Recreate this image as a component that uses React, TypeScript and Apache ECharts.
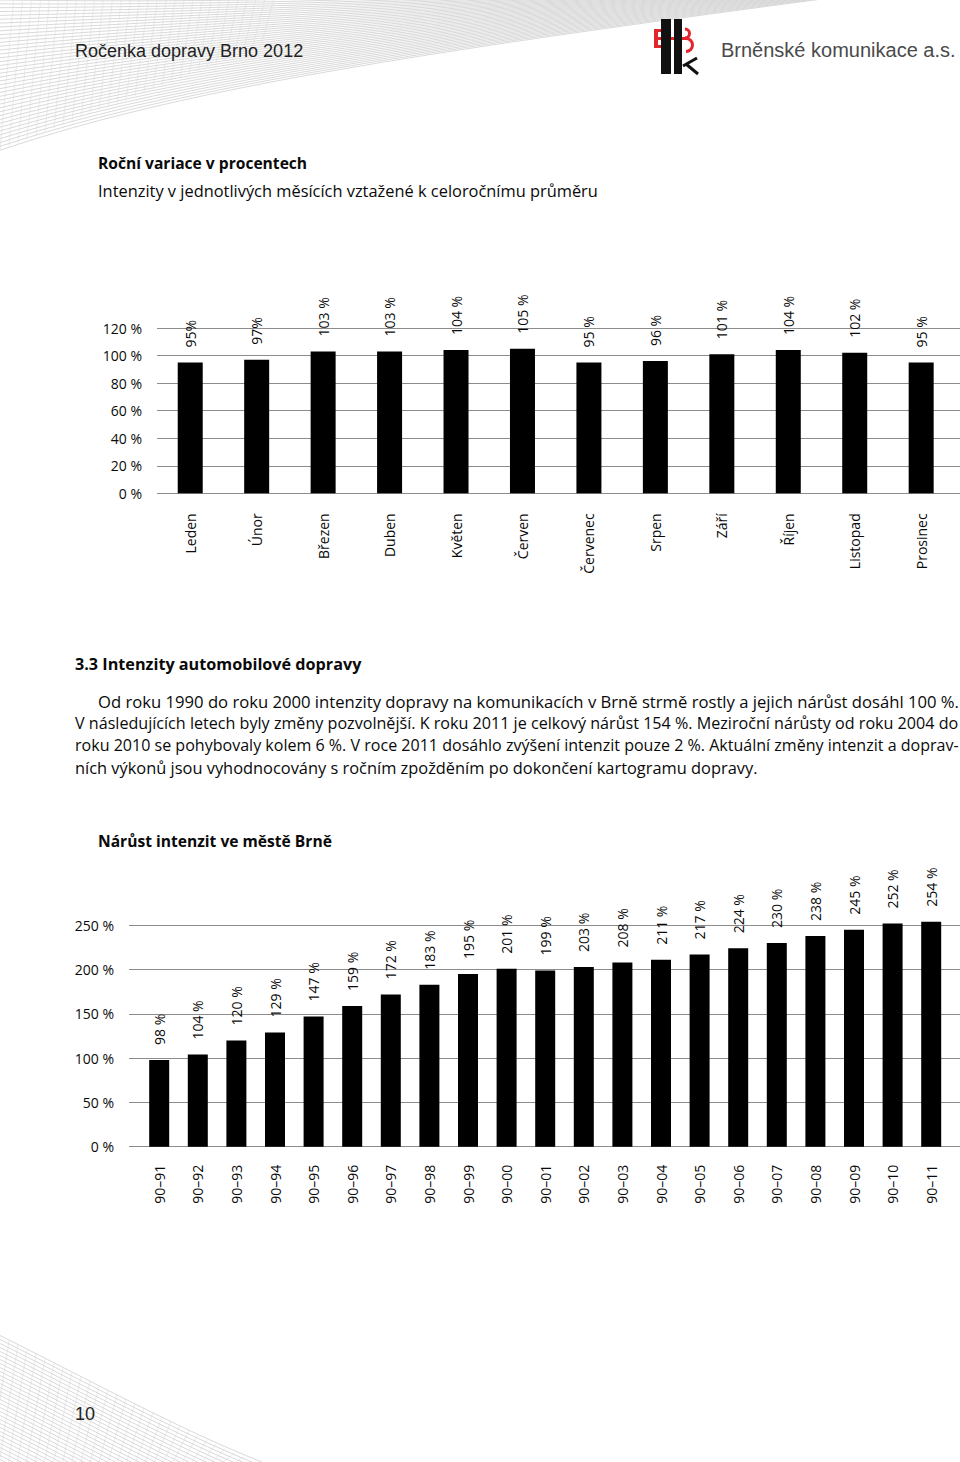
import React, { useEffect, useRef } from "react";
import * as echarts from "echarts";

// ---- Data ----
const months = ["Leden", "Únor", "Březen", "Duben", "Květen", "Červen", "Červenec", "Srpen", "Září", "Říjen", "Listopad", "Prosinec"];
const monthValues = [95, 97, 103, 103, 104, 105, 95, 96, 101, 104, 102, 95];
const monthLabels = ["95%", "97%", "103 %", "103 %", "104 %", "105 %", "95 %", "96 %", "101 %", "104 %", "102 %", "95 %"];
const monthAxisMax = 120;
const monthAxisStep = 20;

const periods = ["90–91", "90–92", "90–93", "90–94", "90–95", "90–96", "90–97", "90–98", "90–99", "90–00", "90–01", "90–02", "90–03", "90–04", "90–05", "90–06", "90–07", "90–08", "90–09", "90–10", "90–11"];
const growthValues = [98, 104, 120, 129, 147, 159, 172, 183, 195, 201, 199, 203, 208, 211, 217, 224, 230, 238, 245, 252, 254];
const growthAxisMax = 250;
const growthAxisStep = 50;
const growthBarsMax = 300;

const paragraphLines = [
  "Od roku 1990 do roku 2000 intenzity dopravy na komunikacích v Brně strmě rostly a jejich nárůst dosáhl 100 %.",
  "V následujících letech byly změny pozvolnější. K roku 2011 je celkový nárůst 154 %. Meziroční nárůsty od roku 2004 do",
  "roku 2010 se pohybovaly kolem 6 %. V roce 2011 dosáhlo zvýšení intenzit pouze 2 %. Aktuální změny intenzit a doprav-",
  "ních výkonů jsou vyhodnocovány s ročním zpožděním po dokončení kartogramu dopravy.",
];

const FONT = '"Open Sans", "Noto Sans", sans-serif';
const HEAD_FONT = '"Liberation Sans", Arial, sans-serif';
const TXT = "#0a0a0a";
const GRIDC = "#8c8c8c";

function swooshes(): any[] {
  const out: any[] = [];
  for (let i = 0; i < 40; i++) {
    out.push({
      type: "bezierCurve",
      silent: true,
      shape: {
        x1: -5, y1: 152 - i * 3.9,
        cpx1: 170, cpy1: 92 - i * 2.3,
        cpx2: 390, cpy2: 56 - i * 1.4,
        x2: 830 - i * 3, y2: -2 - i * 0.4,
      },
      style: { stroke: "#c8c8c8", lineWidth: 0.7, fill: null },
    });
  }
  for (let i = 0; i < 30; i++) {
    out.push({
      type: "line",
      silent: true,
      shape: { x1: i * 9, y1: 150 - i * 3.6, x2: i * 9 + 14, y2: -5 },
      style: { stroke: "#dadada", lineWidth: 0.5 },
    });
  }
  for (let i = 0; i < 34; i++) {
    out.push({
      type: "bezierCurve",
      silent: true,
      shape: {
        x1: -5, y1: 1333 + i * 4,
        cpx1: 80, cpy1: 1375 + i * 4,
        cpx2: 180, cpy2: 1430 + i * 4,
        x2: 262, y2: 1462 + i * 4,
      },
      style: { stroke: "#c8c8c8", lineWidth: 0.7, fill: null },
    });
  }
  for (let i = 0; i < 28; i++) {
    out.push({
      type: "line",
      silent: true,
      shape: { x1: i * 9, y1: 1336 + i * 4.5, x2: i * 9 - 20, y2: 1470 },
      style: { stroke: "#d6d6d6", lineWidth: 0.5 },
    });
  }
  return out;
}

function logo(): any[] {
  const red = "#e2262b";
  const blk = "#111";
  return [
    { type: "rect", shape: { x: 654, y: 29, width: 4, height: 19 }, style: { fill: red } },
    { type: "rect", shape: { x: 654, y: 29, width: 8, height: 3 }, style: { fill: red } },
    { type: "rect", shape: { x: 654, y: 45, width: 8, height: 3 }, style: { fill: red } },
    { type: "rect", shape: { x: 654, y: 37, width: 32, height: 3 }, style: { fill: red } },
    { type: "arc", shape: { cx: 685, cy: 33.5, r: 4.5, startAngle: -Math.PI / 2, endAngle: Math.PI / 2, clockwise: true }, style: { stroke: red, lineWidth: 3, fill: null } },
    { type: "arc", shape: { cx: 686, cy: 45, r: 6.5, startAngle: -Math.PI / 2, endAngle: Math.PI / 2, clockwise: true }, style: { stroke: red, lineWidth: 3, fill: null } },
    { type: "rect", shape: { x: 661, y: 19, width: 10, height: 55 }, style: { fill: blk } },
    { type: "rect", shape: { x: 674, y: 19, width: 8, height: 55 }, style: { fill: blk } },
    { type: "line", shape: { x1: 683, y1: 66, x2: 697, y2: 58 }, style: { stroke: blk, lineWidth: 3 } },
    { type: "line", shape: { x1: 686, y1: 64, x2: 698, y2: 74 }, style: { stroke: blk, lineWidth: 3 } },
  ];
}

function txt(text: string, x: number, y: number, font: string, fill = TXT): any {
  return { type: "text", silent: true, style: { text, x, y, font, fill, textVerticalAlign: "middle" } };
}

// justified-looking paragraph line: horizontally fit to the right margin
function parLine(text: string, x: number, y: number, font: string, justify: boolean): any {
  let scaleX = 1;
  try {
    const ctx = document.createElement("canvas").getContext("2d");
    if (ctx) {
      ctx.font = font;
      const w = ctx.measureText(text).width;
      const target = 959 - x;
      if (justify || w > target) scaleX = target / w;
    }
  } catch (e) { /* ignore */ }
  return {
    type: "text", silent: true, x, y, scaleX,
    style: { text, x: 0, y: 0, font, fill: TXT, textVerticalAlign: "middle" },
  };
}

export default function App() {
  const ref = useRef<HTMLDivElement>(null);
  useEffect(() => {
    document.body.style.margin = "0";
    const chart = echarts.init(ref.current!, null, { renderer: "svg" });
    const axisText = { fontFamily: FONT, fontSize: 14, color: TXT };
    const hiddenCat = { type: "category", data: [""], show: false };
    const bgY = (gi: number, max: number, step: number) => ({
      gridIndex: gi, type: "value", min: 0, max, interval: step,
      axisLine: { show: false }, axisTick: { show: false },
      axisLabel: { ...axisText, margin: 15, formatter: "{value} %" },
      splitLine: { show: true, lineStyle: { color: GRIDC, width: 1 } },
    });
    const hidY = (gi: number, max: number) => ({ gridIndex: gi, type: "value", min: 0, max, show: false, splitLine: { show: false } });

    const bottomZero = 1146.7;
    const bottomH = 221.4;
    const barsH = (bottomH * growthBarsMax) / growthAxisMax;
    const parFont = `16.4px ${FONT}`;

    const option: any = {
      animation: false,
      backgroundColor: "#fff",
      grid: [
        { left: 157, top: 328, width: 803, height: 165.3 },
        { left: 157, top: 328, width: 797.4, height: 165.3 },
        { left: 129, top: bottomZero - bottomH, width: 831, height: bottomH },
        { left: 139.9, top: bottomZero - barsH, width: 810.6, height: barsH },
      ],
      xAxis: [
        { ...hiddenCat, gridIndex: 0 },
        {
          gridIndex: 1, type: "category", data: months,
          axisLine: { show: false }, axisTick: { show: false },
          axisLabel: { ...axisText, rotate: 90, margin: 20, interval: 0 },
        },
        { ...hiddenCat, gridIndex: 2 },
        {
          gridIndex: 3, type: "category", data: periods,
          axisLine: { show: false }, axisTick: { show: false },
          axisLabel: { ...axisText, rotate: 90, margin: 18, interval: 0 },
        },
      ],
      yAxis: [
        bgY(0, monthAxisMax, monthAxisStep),
        hidY(1, monthAxisMax),
        bgY(2, growthAxisMax, growthAxisStep),
        hidY(3, growthBarsMax),
      ],
      series: [
        {
          type: "bar", xAxisIndex: 1, yAxisIndex: 1, data: monthValues, barWidth: 25,
          itemStyle: { color: "#000" },
          label: {
            show: true, position: "top", distance: 15, rotate: 90, align: "left", verticalAlign: "middle",
            ...axisText, formatter: (p: any) => monthLabels[p.dataIndex],
          },
        },
        {
          type: "bar", xAxisIndex: 3, yAxisIndex: 3, data: growthValues, barWidth: 20,
          itemStyle: { color: "#000" },
          label: {
            show: true, position: "top", distance: 15, rotate: 90, align: "left", verticalAlign: "middle",
            ...axisText, formatter: (p: any) => `${p.value} %`,
          },
        },
      ],
      graphic: [
        ...swooshes(),
        ...logo(),
        txt("Ročenka dopravy Brno 2012", 75, 51, `18px ${HEAD_FONT}`, "#222"),
        txt("Brněnské komunikace a.s.", 721, 50, `20px ${HEAD_FONT}`, "#4a4a4a"),
        txt("Roční variace v procentech", 98, 163, `bold 15.6px ${FONT}`),
        txt("Intenzity v jednotlivých měsících vztažené k celoročnímu průměru", 98, 190, `16.4px ${FONT}`),
        txt("3.3 Intenzity automobilové dopravy", 75, 664, `bold 16.2px ${FONT}`),
        parLine(paragraphLines[0], 98, 702, parFont, true),
        parLine(paragraphLines[1], 75, 723, parFont, true),
        parLine(paragraphLines[2], 75, 745, parFont, true),
        parLine(paragraphLines[3], 75, 767, parFont, false),
        txt("Nárůst intenzit ve městě Brně", 98, 841, `bold 15.6px ${FONT}`),
        txt("10", 75, 1414, `18px ${HEAD_FONT}`, "#222"),
      ],
    };
    chart.setOption(option);
    return () => chart.dispose();
  }, []);
  return <div ref={ref} style={{ position: "absolute", left: 0, top: 0, width: 960, height: 1462 }} />;
}
